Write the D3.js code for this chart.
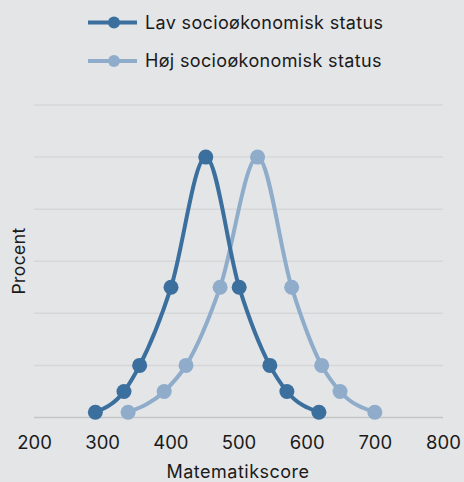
<!DOCTYPE html>
<html>
<head>
<meta charset="utf-8">
<script src="https://cdn.jsdelivr.net/npm/d3@7"></script>
<style>
html,body{margin:0;padding:0;background:#e4e5e7;}
svg{display:block;font-family:Inter,"Noto Sans",sans-serif;}
</style>
</head>
<body>
<svg id="c" width="464" height="482"></svg>
<script>
const seriesNames = ["Lav socioøkonomisk status", "Høj socioøkonomisk status"];
const lavX = [290, 332, 355, 401, 452, 501, 546, 571, 618];
const lavY = [0.5, 2.5, 5, 12.5, 25, 12.5, 5, 2.5, 0.5];
const hojX = [338, 391, 423, 473, 528, 578, 622, 649, 700];
const hojY = [0.5, 2.5, 5, 12.5, 25, 12.5, 5, 2.5, 0.5];
const xTicks = [200, 300, 400, 500, 600, 700, 800];
const yTicks = [0, 5, 10, 15, 20, 25, 30];
const colors = ["#3b6f9e", "#8faccb"];

const svg = d3.select("#c");
const W = 464, H = 482;
svg.append("rect").attr("width", W).attr("height", H).attr("fill", "#e4e5e7");

const x = d3.scaleLinear().domain([200, 800]).range([34, 443]);
const y = d3.scaleLinear().domain([0, 30]).range([417.5, 105]);

// gridlines
svg.append("g").selectAll("line").data(yTicks).join("line")
  .attr("x1", 34).attr("x2", 443)
  .attr("y1", d => y(d)).attr("y2", d => y(d))
  .attr("stroke", d => d === 0 ? "#c4c5c7" : "#d6d7d9")
  .attr("stroke-width", 1.5);

// x axis labels
const xa = d3.axisBottom(x).tickValues(xTicks).tickSize(0).tickPadding(18);
const gx = svg.append("g").attr("transform", `translate(0,${y(0)})`).call(xa);
gx.select(".domain").remove();
gx.selectAll("text").attr("font-size", 18.5).attr("fill", "#1a1a1a").attr("font-family", "Inter,'Noto Sans',sans-serif");

svg.append("text").attr("x", 238).attr("y", 478).attr("text-anchor", "middle")
  .attr("font-size", 18).attr("letter-spacing", 0.5).attr("fill", "#1a1a1a").text("Matematikscore");
svg.append("text").attr("transform", "translate(25,261) rotate(-90)").attr("text-anchor", "middle")
  .attr("font-size", 17.5).attr("letter-spacing", 0.4).attr("fill", "#1a1a1a").text("Procent");

const data = [
  lavX.map((v, i) => [v, lavY[i]]),
  hojX.map((v, i) => [v, hojY[i]])
];
const line = d3.line().x(d => x(d[0])).y(d => y(d[1])).curve(d3.curveMonotoneX);

[1, 0].forEach(k => {
  svg.append("path").attr("d", line(data[k])).attr("fill", "none")
    .attr("stroke", colors[k]).attr("stroke-width", 4);
  svg.append("g").selectAll("circle").data(data[k]).join("circle")
    .attr("cx", d => x(d[0])).attr("cy", d => y(d[1])).attr("r", 7.5)
    .attr("fill", colors[k]);
});

// legend
const leg = svg.append("g");
seriesNames.forEach((n, i) => {
  const ly = 22.5 + i * 38.5;
  leg.append("line").attr("x1", 88).attr("x2", 137).attr("y1", ly).attr("y2", ly)
    .attr("stroke", colors[i]).attr("stroke-width", 4);
  leg.append("circle").attr("cx", 114).attr("cy", ly).attr("r", 6).attr("fill", colors[i]);
  leg.append("text").attr("x", 145).attr("y", ly).attr("dy", "0.35em")
    .attr("font-size", 18).attr("letter-spacing", 0.35).attr("fill", "#1a1a1a").text(n);
});
</script>
</body>
</html>
